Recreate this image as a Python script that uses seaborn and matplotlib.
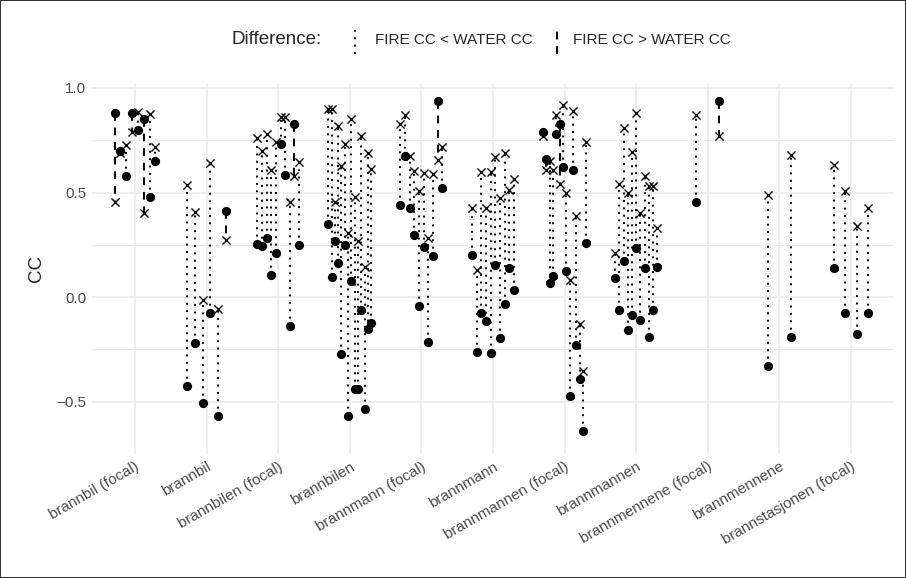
import numpy as np
import pandas as pd
import matplotlib
matplotlib.use("Agg")
import matplotlib.pyplot as plt
import seaborn as sns
from matplotlib.lines import Line2D

categories = ["brannbil (focal)", "brannbil", "brannbilen (focal)", "brannbilen",
              "brannmann (focal)", "brannmann", "brannmannen (focal)", "brannmannen",
              "brannmennene (focal)", "brannmennene", "brannstasjonen (focal)"]

# one row per category, one value per word pair
fire_cc = [
    [0.88, 0.70, 0.58, 0.88, 0.80, 0.85, 0.48, 0.65],
    [-0.425, -0.219, -0.508, -0.078, -0.567, 0.411],
    [0.255, 0.244, 0.283, 0.106, 0.211, 0.73, 0.583, -0.14, 0.83, 0.247],
    [0.352, 0.098, 0.267, 0.161, -0.273, 0.25, -0.566, 0.075, -0.44, -0.44, -0.06, -0.534, -0.152, -0.123],
    [0.442, 0.677, 0.427, 0.295, -0.044, 0.239, -0.214, 0.195, 0.94, 0.523],
    [0.203, -0.26, -0.078, -0.116, -0.269, 0.153, -0.195, -0.034, 0.137, 0.033],
    [0.79, 0.66, 0.067, 0.10, 0.78, 0.83, 0.62, 0.125, -0.475, 0.61, -0.227, -0.39, -0.64, 0.261],
    [0.091, -0.061, 0.173, -0.159, -0.084, 0.234, -0.108, 0.1375, -0.19, -0.061, 0.145],
    [0.453, 0.94],
    [-0.33, -0.19],
    [0.1375, -0.077, -0.175, -0.075],
]
water_cc = [
    [0.455, 0.69, 0.727, 0.79, 0.886, 0.40, 0.875, 0.72],
    [0.536, 0.406, -0.016, 0.642, -0.058, 0.273],
    [0.76, 0.70, 0.78, 0.61, 0.74, 0.86, 0.86, 0.453, 0.58, 0.645],
    [0.90, 0.90, 0.453, 0.82, 0.627, 0.73, 0.306, 0.85, 0.478, 0.266, 0.77, 0.145, 0.69, 0.614],
    [0.83, 0.87, 0.677, 0.603, 0.508, 0.595, 0.283, 0.587, 0.656, 0.72],
    [0.427, 0.131, 0.6, 0.427, 0.6, 0.669, 0.473, 0.688, 0.51, 0.567],
    [0.77, 0.61, 0.65, 0.606, 0.87, 0.539, 0.92, 0.497, 0.083, 0.89, 0.387, -0.128, -0.355, 0.74],
    [0.211, 0.539, 0.81, 0.50, 0.695, 0.88, 0.403, 0.58, 0.53, 0.53, 0.33],
    [0.87, 0.77],
    [0.489, 0.68],
    [0.633, 0.509, 0.34, 0.425],
]

DODGE = 0.65

# long table with dodged x positions
rows = []
for ci, cat in enumerate(categories):
    n = len(fire_cc[ci])
    for i, (f, w) in enumerate(zip(fire_cc[ci], water_cc[ci])):
        pos = ci + DODGE * ((i + 0.5) / n - 0.5)
        rows.append({"category": cat, "pos": pos, "fire": f, "water": w})
df = pd.DataFrame(rows)
df["diff"] = np.where(df["fire"] < df["water"], "FIRE CC < WATER CC", "FIRE CC > WATER CC")

sns.set_theme(style="whitegrid")
plt.rcParams["font.family"] = ["Liberation Sans", "DejaVu Sans"]

fig = plt.figure(figsize=(9.06, 5.78), dpi=100)
fig.patch.set_edgecolor("#333333")
fig.patch.set_linewidth(1.2)
ax = fig.add_axes([92 / 906, 1 - 454 / 578, 802 / 906, 370 / 578])

dotted = (0, (1, 2.8))
dashed = (0, (4, 3.5))
lo = df[df["diff"] == "FIRE CC < WATER CC"]
hi = df[df["diff"] == "FIRE CC > WATER CC"]
ax.vlines(lo["pos"], lo["fire"], lo["water"], colors="black", linestyles=[dotted], linewidth=1.4, zorder=2)
ax.vlines(hi["pos"], hi["fire"], hi["water"], colors="black", linestyles=[dashed], linewidth=1.4, zorder=2)

sns.scatterplot(data=df, x="pos", y="fire", marker="o", color="black", s=44,
                edgecolor="black", linewidth=0, ax=ax, zorder=3)
sns.scatterplot(data=df, x="pos", y="water", marker="x", color="black", s=34,
                linewidth=1.0, ax=ax, zorder=3)

ax.set_xlim(-0.6, len(categories) - 0.4)
ymin = min(df["fire"].min(), df["water"].min())
ymax = max(df["fire"].max(), df["water"].max())
pad = (ymax - ymin) * 0.05
ax.set_ylim(ymin - pad, ymax + pad)
ax.set_yticks([-0.5, 0.0, 0.5, 1.0])
ax.set_yticks([-0.75, -0.25, 0.25, 0.75], minor=True)
ax.set_xticks(range(len(categories)))
ax.set_xticklabels(categories, rotation=30, ha="right", rotation_mode="anchor",
                   fontsize=11, color="#4d4d4d")
ax.tick_params(axis="y", labelsize=11, labelcolor="#4d4d4d", length=0, pad=4)
ax.tick_params(axis="x", length=0, pad=4)
ax.grid(True, which="major", color="#ebebeb", linewidth=1.2)
ax.grid(True, which="minor", axis="y", color="#ebebeb", linewidth=0.7)
ax.set_xlabel("")
ax.set_ylabel("CC", fontsize=13.5, labelpad=8)
for s in ax.spines.values():
    s.set_visible(False)
ax.set_facecolor("white")

# legend row at the top
ly = 1 - 40 / 578
fig.text(232 / 906, ly, "Difference:", fontsize=13.5, va="center", ha="left")
fig.add_artist(Line2D([355 / 906] * 2, [ly - 0.024, ly + 0.024], color="black",
                      linestyle=dotted, linewidth=1.4, transform=fig.transFigure))
fig.text(375 / 906, ly, "FIRE CC < WATER CC", fontsize=11, va="center", ha="left")
fig.add_artist(Line2D([557 / 906] * 2, [ly - 0.024, ly + 0.024], color="black",
                      linestyle=dashed, linewidth=1.4, transform=fig.transFigure))
fig.text(573 / 906, ly, "FIRE CC > WATER CC", fontsize=11, va="center", ha="left")

fig.savefig("out.png", dpi=100)
